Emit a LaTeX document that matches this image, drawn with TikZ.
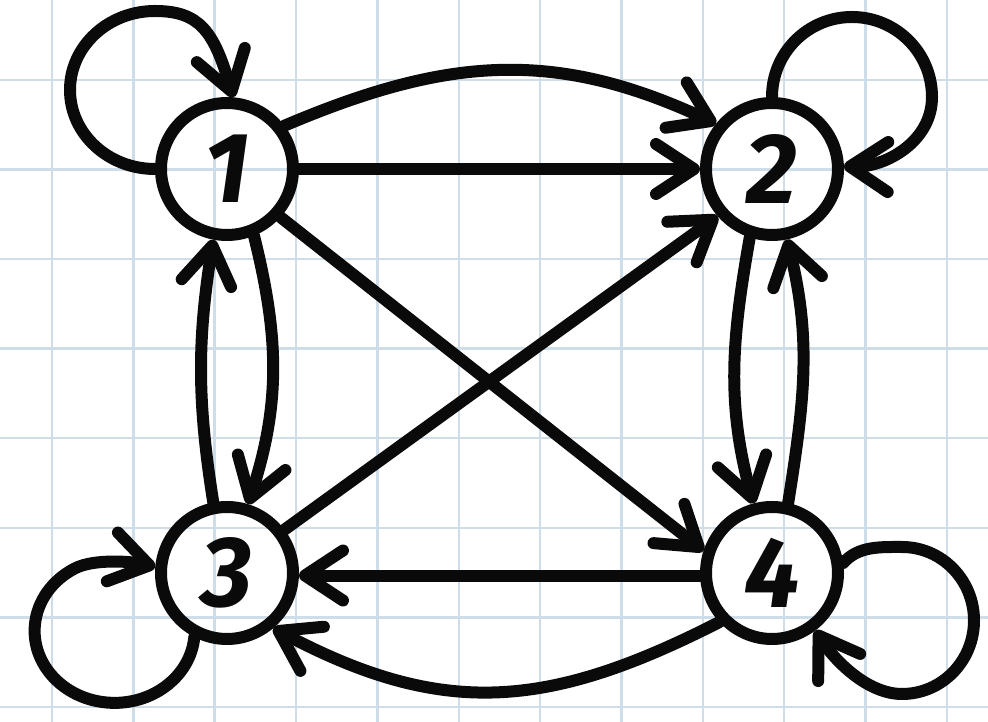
\documentclass[tikz,border=0pt]{standalone}
\usepackage{fontspec}
\setmainfont{Fira Sans}
\usetikzlibrary{arrows.meta}
\definecolor{gridc}{RGB}{206,221,231}
\definecolor{ink}{RGB}{10,10,10}
\begin{document}
\begin{tikzpicture}[x=1pt,y=1pt,
  vtx/.style={circle, draw=ink, line width=12pt, minimum size=132pt, inner sep=0pt,
    font=\fontsize{100}{100}\selectfont\bfseries\itshape, text=ink},
  arr/.style={draw=ink, line width=12pt, line cap=round, line join=round,
    -{Straight Barb[length=38pt,width=50pt,round]}},
  gridline/.style={draw=gridc, line width=2.5pt}]
\fill[white] (0,0) rectangle (988,722);
\useasboundingbox (0,0) rectangle (988,722);
\foreach \k in {0,...,11} \draw[gridline] ({52+81.35*\k},0) -- ({52+81.35*\k},722);
\foreach \k in {0,...,7} \draw[gridline] (0,{15+89.6*\k}) -- (988,{15+89.6*\k});

\node[vtx] (n1) at (227,553) {1};
\node[vtx] (n2) at (772,553) {2};
\node[vtx] (n3) at (227,149) {3};
\node[vtx] (n4) at (772,149) {4};

\draw[arr] (n1) -- (n2);
\draw[arr] (n1.37) to[out=23,in=155,looseness=1.05] (n2.141);
\draw[arr] (n1.-42) -- (n4.162);
\draw[arr] (n3.37.5) -- (n2.-139);
\draw[arr] (n4.182) -- (n3.-2);
\draw[arr] (n4.-137) to[out=-153,in=-28,looseness=1.1] (n3.-50);
\draw[arr] (n1.-68) to[out=-76,in=72] (n3.73);
\draw[arr] (n3.101) to[out=99,in=-99] (n1.-101);
\draw[arr] (n2.-108) to[out=-100,in=105] (n4.105);
\draw[arr] (n4.77) to[out=81,in=-76] (n2.-78);

\draw[arr] (n1.west) arc[start angle=-90,end angle=-270,x radius=85pt,y radius=79pt]
  .. controls +(45,0) and (214,690) .. (n1.85);
\draw[arr] (n2.north) arc[start angle=180,end angle=0,radius=80pt]
  .. controls +(0,-45) and (885,555) .. (n2.2);
\draw[arr] (n3.-117) arc[start angle=-5,end angle=-240,x radius=80pt,y radius=72pt]
  .. controls +(20,10.4) and (133.7,160.2) .. (n3.175);
\draw[arr] (n4.8) .. controls (858,176) and (880,175) .. (902,175)
  arc[start angle=90,end angle=-90,x radius=72pt,y radius=73.5pt]
  .. controls +(-35,0) and (834.3,62.1) .. (n4.-53);
\end{tikzpicture}
\end{document}
